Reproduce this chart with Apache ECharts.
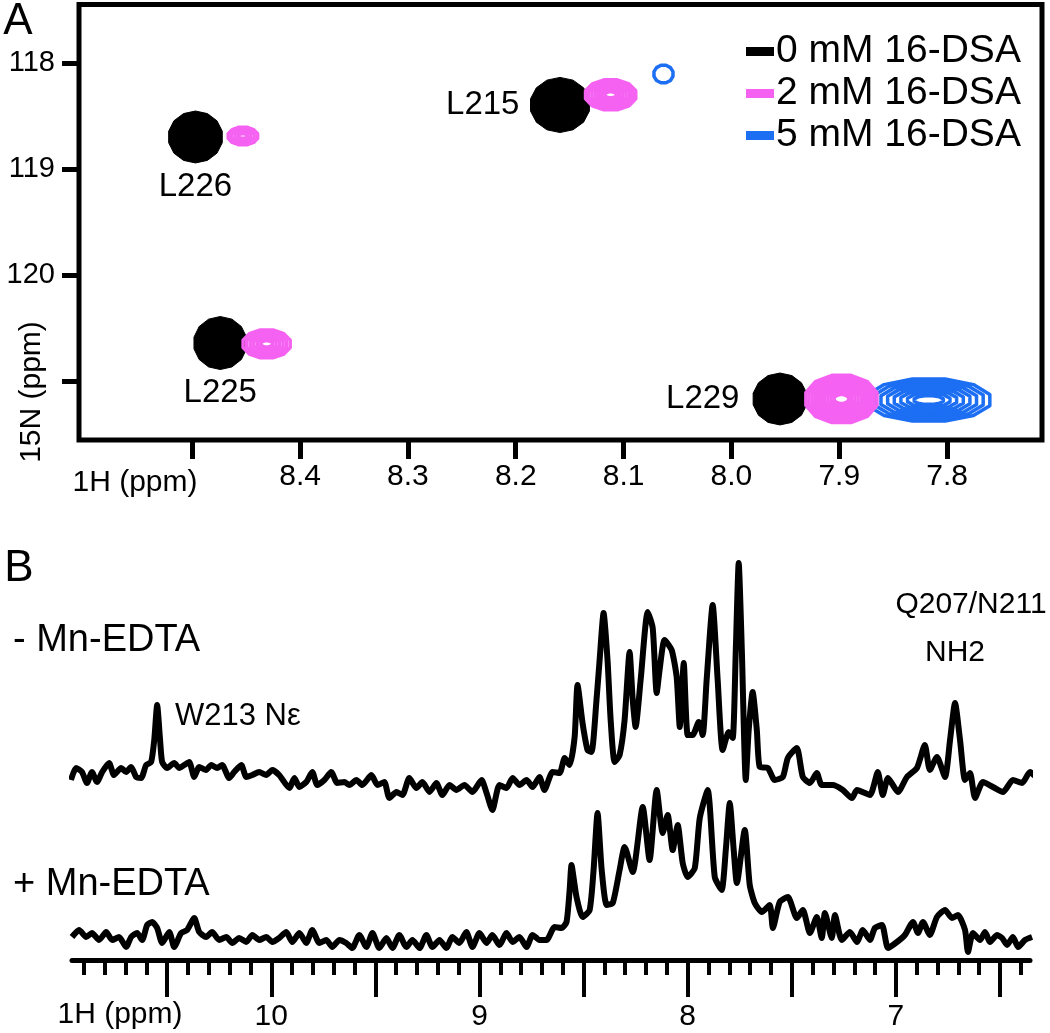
<!DOCTYPE html>
<html><head><meta charset="utf-8">
<script src="https://cdn.jsdelivr.net/npm/echarts@6/dist/echarts.min.js"></script>
<style>html,body{margin:0;padding:0;background:#fff}#c{width:1050px;height:1033px}</style>
</head><body><div id="c"></div>
<script>
const FONT = 'Liberation Sans, Arial, Helvetica, sans-serif';

// ---------- Panel A : 1H-15N HSQC peaks ----------
const aXTicks = [8.5, 8.4, 8.3, 8.2, 8.1, 8.0, 7.9, 7.8];
const aXLabels = [8.4, 8.3, 8.2, 8.1, 8.0, 7.9, 7.8];
const aYTicks = [118, 119, 120, 121];
const aYLabels = [118, 119, 120];
const seriesNames = ['0 mM 16-DSA', '2 mM 16-DSA', '5 mM 16-DSA'];
const peakNames = ['L226', 'L225', 'L215', 'L229'];
const peakLabelSide = ['bottom', 'bottom', 'left', 'left'];
// [1H ppm, 15N ppm, 1H linewidth ppm, 15N linewidth ppm]
const peaks0mM = [[8.497, 118.698, 0.051, 0.49], [8.474, 120.642, 0.050, 0.50], [8.159, 118.396, 0.056, 0.52], [7.955, 121.17, 0.051, 0.49]];
// [1H, 15N, w1H, w15N, contour levels]
const peaks2mM = [[8.453, 118.689, 0.031, 0.20, 4], [8.431, 120.65, 0.048, 0.30, 6], [8.112, 118.30, 0.051, 0.32, 7], [7.898, 121.17, 0.071, 0.49, 10]];
const peaks5mM = [[8.063, 118.104, 0.021, 0.20, 1], [7.817, 121.18, 0.120, 0.44, 8]];

// ---------- Panel B : 1D 1H spectra ----------
const bMajorTicks = [6.5, 7, 7.5, 8, 8.5, 9, 9.5, 10, 10.5];
const bLabels = [7, 8, 9, 10];
const traceMinusMn = [[10.962,20],[10.938,32],[10.909,28],[10.885,17],[10.861,28],[10.837,18],[10.812,28],[10.779,37],[10.755,25],[10.721,32],[10.697,28],[10.673,33],[10.649,23],[10.625,22],[10.601,35],[10.577,38],[10.562,60],[10.548,95],[10.534,60],[10.524,38],[10.500,32],[10.466,37],[10.442,32],[10.418,35],[10.394,38],[10.370,23],[10.346,33],[10.313,30],[10.288,35],[10.260,32],[10.236,35],[10.202,22],[10.178,28],[10.144,35],[10.120,23],[10.091,25],[10.058,28],[10.024,25],[9.995,30],[9.962,25],[9.913,12],[9.889,22],[9.865,13],[9.832,18],[9.803,28],[9.779,15],[9.745,20],[9.712,28],[9.683,17],[9.649,18],[9.625,15],[9.591,20],[9.563,15],[9.519,25],[9.490,15],[9.457,18],[9.433,2],[9.399,8],[9.370,5],[9.337,22],[9.303,12],[9.274,18],[9.240,8],[9.207,17],[9.178,5],[9.144,15],[9.111,10],[9.072,15],[9.034,8],[8.990,20],[8.966,7],[8.938,-10],[8.904,15],[8.870,12],[8.841,22],[8.808,15],[8.774,20],[8.745,13],[8.712,23],[8.688,10],[8.649,28],[8.615,27],[8.591,42],[8.567,35],[8.543,63],[8.529,115],[8.505,77],[8.481,50],[8.462,48],[8.438,100],[8.423,140],[8.404,187],[8.385,140],[8.370,80],[8.351,38],[8.327,45],[8.303,80],[8.279,148],[8.264,100],[8.250,73],[8.226,120],[8.192,188],[8.168,172],[8.149,107],[8.135,130],[8.111,160],[8.077,150],[8.053,123],[8.038,73],[8.019,137],[8.000,65],[7.976,65],[7.947,78],[7.928,65],[7.909,120],[7.880,195],[7.856,120],[7.832,50],[7.803,68],[7.784,62],[7.769,150],[7.755,237],[7.740,150],[7.721,20],[7.707,70],[7.688,108],[7.668,70],[7.654,33],[7.615,32],[7.582,20],[7.543,23],[7.519,42],[7.476,52],[7.447,23],[7.413,17],[7.380,27],[7.356,15],[7.303,15],[7.255,10],[7.211,2],[7.187,10],[7.125,5],[7.087,28],[7.063,5],[7.038,22],[6.990,8],[6.947,23],[6.899,32],[6.861,55],[6.837,30],[6.803,43],[6.764,23],[6.740,60],[6.716,97],[6.692,60],[6.668,20],[6.644,27],[6.620,2],[6.582,18],[6.534,13],[6.486,8],[6.438,20],[6.394,17],[6.356,28],[6.308,20],[6.269,25]];
const tracePlusMn = [[10.957,23],[10.923,30],[10.889,23],[10.861,27],[10.827,20],[10.793,28],[10.764,20],[10.731,23],[10.697,13],[10.673,23],[10.644,27],[10.620,20],[10.596,35],[10.572,38],[10.548,32],[10.524,17],[10.490,28],[10.466,13],[10.433,27],[10.404,30],[10.370,42],[10.346,28],[10.313,23],[10.284,28],[10.250,20],[10.216,23],[10.187,17],[10.154,22],[10.120,18],[10.091,25],[10.058,20],[10.024,23],[9.995,18],[9.962,22],[9.928,28],[9.899,18],[9.865,27],[9.832,17],[9.803,30],[9.769,17],[9.736,20],[9.707,13],[9.673,20],[9.640,17],[9.611,12],[9.577,25],[9.543,13],[9.514,27],[9.481,12],[9.447,22],[9.418,12],[9.385,25],[9.351,13],[9.322,20],[9.288,12],[9.255,25],[9.226,13],[9.192,20],[9.159,12],[9.130,23],[9.097,17],[9.063,28],[9.034,13],[9.000,27],[8.966,17],[8.938,25],[8.904,15],[8.870,27],[8.841,18],[8.808,23],[8.774,13],[8.745,25],[8.712,20],[8.678,20],[8.639,33],[8.606,32],[8.582,38],[8.567,70],[8.558,95],[8.543,75],[8.534,63],[8.505,43],[8.471,50],[8.452,90],[8.433,147],[8.413,90],[8.389,55],[8.360,57],[8.327,90],[8.303,113],[8.264,88],[8.216,153],[8.183,100],[8.149,170],[8.120,127],[8.096,145],[8.072,110],[8.048,135],[8.024,97],[8.000,83],[7.966,92],[7.942,142],[7.904,170],[7.870,83],[7.837,70],[7.817,110],[7.798,157],[7.779,110],[7.764,77],[7.726,130],[7.702,75],[7.678,57],[7.644,48],[7.606,55],[7.591,32],[7.558,58],[7.519,63],[7.476,42],[7.447,50],[7.413,27],[7.380,43],[7.356,22],[7.341,47],[7.308,22],[7.293,45],[7.260,20],[7.221,28],[7.187,18],[7.159,30],[7.125,20],[7.101,32],[7.067,35],[7.038,12],[6.995,18],[6.957,25],[6.918,38],[6.894,27],[6.870,38],[6.837,25],[6.803,43],[6.764,50],[6.731,42],[6.702,45],[6.668,30],[6.654,8],[6.630,27],[6.596,20],[6.572,28],[6.548,18],[6.514,25],[6.490,22],[6.466,15],[6.438,23],[6.413,13],[6.380,20],[6.346,23]];

// minor ticks every 0.1 ppm across the axis
const bMinorTicks = [];
for (let i = 64; i <= 109; i++) bMinorTicks.push(i / 10);

const COLORS = ['#000000', '#f562f2', '#1c6ef3'];

function ellipsePts(cx, cy, rx, ry, n) {
  const pts = [];
  for (let i = 0; i < n; i++) {
    const a = 2 * Math.PI * i / n + Math.PI / n;
    pts.push([cx + rx * Math.cos(a), cy + ry * Math.sin(a)]);
  }
  return pts;
}
function makeRender(color, filled) {
  return function (params, api) {
    const c = api.coord([api.value(0), api.value(1)]);
    const s = api.size([api.value(2), api.value(3)], [api.value(0), api.value(1)]);
    const rx = Math.abs(s[0]) / 2, ry = Math.abs(s[1]) / 2;
    const children = [];
    if (filled) {
      children.push({ type: 'polygon', shape: { points: ellipsePts(c[0], c[1], rx, ry, 14) },
        style: { fill: color, stroke: color, lineWidth: 1 } });
    } else {
      const n = api.value(4);
      for (let k = 0; k < n; k++) {
        const f = 1 - k * 0.85 / n;
        children.push({ type: 'polygon', shape: { points: ellipsePts(c[0], c[1], Math.max(rx * f - 1.5, 1), Math.max(ry * f - 1.5, 1), 12) },
          style: { fill: 'none', stroke: color, lineWidth: 3.5, lineJoin: 'round' } });
      }
    }
    return { type: 'group', children: children };
  };
}

const axisTxt = { color: '#000', fontFamily: FONT };

const option = {
  animation: false,
  backgroundColor: '#fff',
  grid: [
    { left: 79, right: 8, top: 4.5, bottom: 593, show: true, borderColor: '#000', borderWidth: 5, containLabel: false, outerBoundsMode: 'none' },
    { left: 72, right: 20, top: 550, bottom: 233, containLabel: false, outerBoundsMode: 'none' },
    { left: 72, right: 20, top: 760, bottom: 59, containLabel: false, outerBoundsMode: 'none' }
  ],
  legend: {
    data: seriesNames, orient: 'vertical', left: 741, top: 27, icon: 'rect',
    itemWidth: 28, itemHeight: 9, itemGap: 3, selectedMode: false,
    textStyle: { fontSize: 39, color: '#000', fontFamily: FONT, padding: [0, 0, 0, -3] }
  },
  xAxis: [
    { gridIndex: 0, type: 'value', min: 7.712, max: 8.605, inverse: true, position: 'bottom',
      axisLine: { show: false }, splitLine: { show: false },
      axisTick: { show: true, inside: false, length: 19, customValues: aXTicks, lineStyle: { color: '#000', width: 5 } },
      axisLabel: { customValues: aXLabels, fontSize: 30, margin: 22, formatter: v => v.toFixed(1), ...axisTxt } },
    { gridIndex: 1, type: 'value', min: 6.356, max: 10.957, inverse: true, show: false },
    { gridIndex: 2, type: 'value', min: 6.356, max: 10.957, inverse: true, position: 'bottom',
      axisLine: { show: true, lineStyle: { color: '#000', width: 5 } }, splitLine: { show: false },
      axisTick: { show: true, inside: false, length: 15, customValues: bMinorTicks, lineStyle: { color: '#000', width: 4 } },
      axisLabel: { show: false } },
    { gridIndex: 2, type: 'value', min: 6.356, max: 10.957, inverse: true, position: 'bottom',
      axisLine: { show: false }, splitLine: { show: false },
      axisTick: { show: true, inside: false, length: 23, customValues: bMajorTicks, lineStyle: { color: '#000', width: 4 } },
      axisLabel: { customValues: bLabels, fontSize: 30, margin: 28, ...axisTxt } }
  ],
  yAxis: [
    { gridIndex: 0, type: 'value', min: 117.448, max: 121.557, inverse: true,
      axisLine: { show: false }, splitLine: { show: false },
      axisTick: { show: true, inside: false, length: 17, customValues: aYTicks, lineStyle: { color: '#000', width: 5 } },
      axisLabel: { customValues: aYLabels, fontSize: 29, margin: 24, ...axisTxt } },
    { gridIndex: 1, type: 'value', min: 0, max: 250, show: false },
    { gridIndex: 2, type: 'value', min: -14, max: 200, show: false }
  ],
  series: [
    { name: seriesNames[0], type: 'custom', xAxisIndex: 0, yAxisIndex: 0, data: peaks0mM,
      encode: { x: 0, y: 1 }, itemStyle: { color: COLORS[0] }, renderItem: makeRender(COLORS[0], true), z: 2 },
    { name: seriesNames[2], type: 'custom', xAxisIndex: 0, yAxisIndex: 0, data: peaks5mM,
      encode: { x: 0, y: 1 }, itemStyle: { color: COLORS[2] }, renderItem: makeRender(COLORS[2], false), z: 3 },
    { name: seriesNames[1], type: 'custom', xAxisIndex: 0, yAxisIndex: 0, data: peaks2mM,
      encode: { x: 0, y: 1 }, itemStyle: { color: COLORS[1] }, renderItem: makeRender(COLORS[1], false), z: 4 },
    { type: 'scatter', xAxisIndex: 0, yAxisIndex: 0, symbolSize: 55, silent: true,
      itemStyle: { color: 'rgba(0,0,0,0)', opacity: 1 },
      data: peaks0mM.map((p, i) => ({ value: [p[0], p[1]], name: peakNames[i],
        label: { show: true, position: peakLabelSide[i], distance: peakLabelSide[i] === 'left' ? 13 : 6,
          formatter: '{b}', fontSize: 33, color: '#000', opacity: 1, fontFamily: FONT } })), z: 5 },
    { type: 'line', xAxisIndex: 1, yAxisIndex: 1, data: traceMinusMn, showSymbol: false, symbol: 'none', clip: false,
      smooth: 0.2, lineStyle: { color: '#000', width: 6, join: 'round' } },
    { type: 'line', xAxisIndex: 2, yAxisIndex: 2, data: tracePlusMn, showSymbol: false, symbol: 'none', clip: false,
      smooth: 0.2, lineStyle: { color: '#000', width: 6, join: 'round' } }
  ],
  graphic: [
    { type: 'text', x: 18, y: 22, style: { text: 'A', fontSize: 44, fontFamily: FONT, fill: '#000', textAlign: 'center', textVerticalAlign: 'middle' } },
    { type: 'text', x: 135, y: 483, style: { text: '1H (ppm)', fontSize: 30, fontFamily: FONT, fill: '#000', textAlign: 'center', textVerticalAlign: 'middle' } },
    { type: 'text', x: 32, y: 392, rotation: Math.PI / 2, style: { text: '15N (ppm)', fontSize: 30, fontFamily: FONT, fill: '#000', textAlign: 'center', textVerticalAlign: 'middle' } },
    { type: 'text', x: 19, y: 569, style: { text: 'B', fontSize: 44, fontFamily: FONT, fill: '#000', textAlign: 'center', textVerticalAlign: 'middle' } },
    { type: 'text', x: 13, y: 641, style: { text: '- Mn-EDTA', fontSize: 38, fontFamily: FONT, fill: '#000', textAlign: 'left', textVerticalAlign: 'middle' } },
    { type: 'text', x: 13, y: 885, style: { text: '+ Mn-EDTA', fontSize: 38, fontFamily: FONT, fill: '#000', textAlign: 'left', textVerticalAlign: 'middle' } },
    { type: 'text', x: 175, y: 716, style: { text: 'W213 Nε', fontSize: 31, fontFamily: FONT, fill: '#000', textAlign: 'left', textVerticalAlign: 'middle' } },
    { type: 'text', x: 971, y: 605, style: { text: 'Q207/N211', fontSize: 30, fontFamily: FONT, fill: '#000', textAlign: 'center', textVerticalAlign: 'middle' } },
    { type: 'text', x: 955, y: 653, style: { text: 'NH2', fontSize: 30, fontFamily: FONT, fill: '#000', textAlign: 'center', textVerticalAlign: 'middle' } },
    { type: 'text', x: 120, y: 1015, style: { text: '1H (ppm)', fontSize: 30, fontFamily: FONT, fill: '#000', textAlign: 'center', textVerticalAlign: 'middle' } }
  ]
};
const chart = echarts.init(document.getElementById('c'), null, { renderer: 'canvas' });
chart.setOption(option);
</script></body></html>
